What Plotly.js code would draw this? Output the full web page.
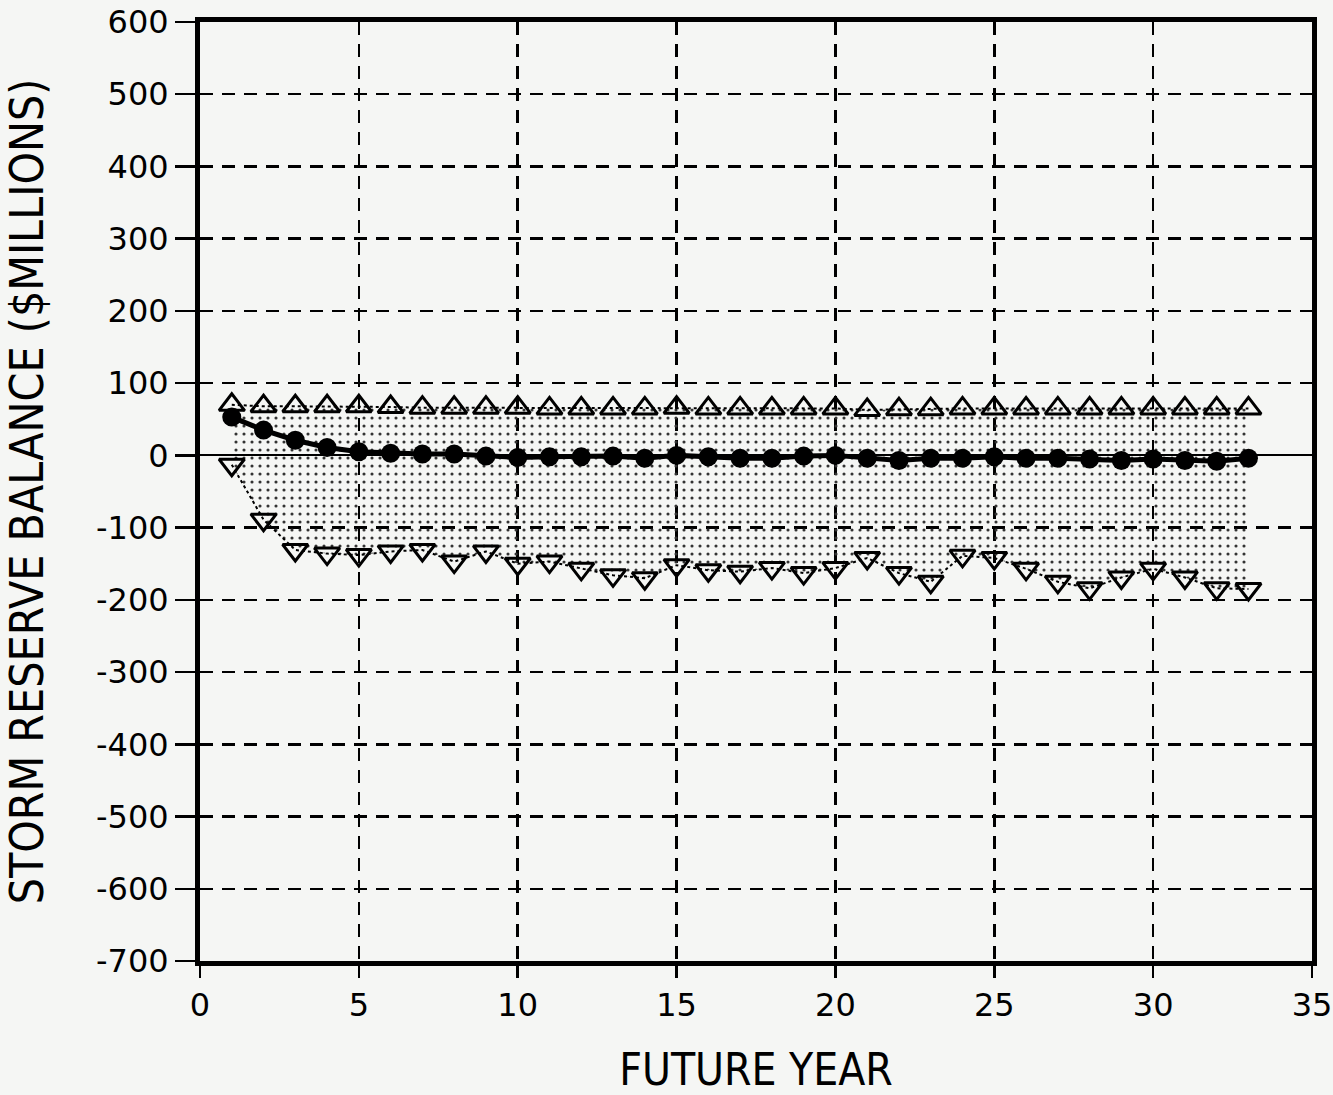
<!DOCTYPE html>
<html>
<head>
<meta charset="utf-8">
<script src="https://cdn.plot.ly/plotly-3.0.1.min.js"></script>
<style>html,body{margin:0;padding:0;background:#f5f6f4;}</style>
</head>
<body>
<div id="chart" style="width:1333px;height:1095px;"></div>
<script>
const years = [1,2,3,4,5,6,7,8,9,10,11,12,13,14,15,16,17,18,19,20,21,22,23,24,25,26,27,28,29,30,31,32,33];
const upperBound = [70,68,68,68,68,67,66,66,66,66,65,65,65,65,66,65,65,65,65,65,63,64,64,65,65,65,65,65,65,65,65,65,65];
const meanBalance = [53,35,21,11,5,3,2,2,-1,-3,-2,-2,-1,-4,0,-2,-4,-4,-1,0,-4,-7,-4,-4,-2,-4,-4,-5,-7,-5,-7,-8,-4];
const lowerBound = [-13,-89,-131,-136,-138,-133,-131,-147,-133,-150,-147,-157,-166,-170,-152,-159,-161,-156,-163,-156,-142,-163,-175,-139,-142,-157,-175,-184,-169,-157,-169,-184,-185];
const xTicks = [0,5,10,15,20,25,30,35];
const yTicks = [600,500,400,300,200,100,0,-100,-200,-300,-400,-500,-600,-700];

const tickFont = "DejaVu Sans, sans-serif";
const titleFont = "DejaVu Sans Condensed, DejaVu Sans, sans-serif";

const traces = [
  {x: years, y: upperBound, mode: 'lines+markers', type: 'scatter',
   line: {color: 'black', width: 2, dash: 'dot'},
   marker: {symbol: 'triangle-up-open', size: 22, color: 'black', line: {width: 3, color: 'black'}},
   showlegend: false},
  {x: years, y: lowerBound, mode: 'lines+markers', type: 'scatter', fill: 'tonexty',
   fillcolor: 'rgba(0,0,0,0)',
   fillpattern: {shape: '.', fgcolor: '#333', bgcolor: 'rgba(0,0,0,0)', size: 8, solidity: 0.12},
   line: {color: 'black', width: 2, dash: 'dot'},
   marker: {symbol: 'triangle-down-open', size: 22, color: 'black', line: {width: 3, color: 'black'}},
   showlegend: false},
  {x: years, y: meanBalance, mode: 'lines+markers', type: 'scatter',
   line: {color: 'black', width: 5},
   marker: {symbol: 'circle', size: 19, color: 'black'},
   showlegend: false}
];

const layout = {
  width: 1333, height: 1095,
  paper_bgcolor: '#f5f6f4', plot_bgcolor: '#f5f6f4',
  margin: {l: 200, r: 21, t: 22, b: 134},
  font: {family: tickFont, color: 'black', size: 32},
  xaxis: {
    range: [0, 35], tickvals: xTicks, ticktext: xTicks.map(String),
    showgrid: true, gridcolor: 'black', gridwidth: 2.5, griddash: '13px,9px',
    showline: true, linecolor: 'black', linewidth: 5, mirror: true,
    ticks: 'outside', ticklen: 12, tickwidth: 2.5, tickcolor: 'black',
    zeroline: false,
    tickfont: {family: tickFont, size: 32},
    title: {text: 'FUTURE YEAR', font: {family: titleFont, size: 44}, standoff: 34}
  },
  yaxis: {
    range: [-700, 600], tickvals: yTicks, ticktext: yTicks.map(String),
    showgrid: true, gridcolor: 'black', gridwidth: 2.5, griddash: '13px,9px',
    showline: true, linecolor: 'black', linewidth: 5, mirror: true,
    ticks: 'outside', ticklen: 20, tickwidth: 2.5, tickcolor: 'black',
    zeroline: true, zerolinecolor: 'black', zerolinewidth: 2,
    tickfont: {family: tickFont, size: 32},
    title: {text: 'STORM RESERVE BALANCE ($MILLIONS)', font: {family: titleFont, size: 46}, standoff: 45}
  }
};

Plotly.newPlot('chart', traces, layout, {staticPlot: true, displayModeBar: false});
</script>
</body>
</html>
